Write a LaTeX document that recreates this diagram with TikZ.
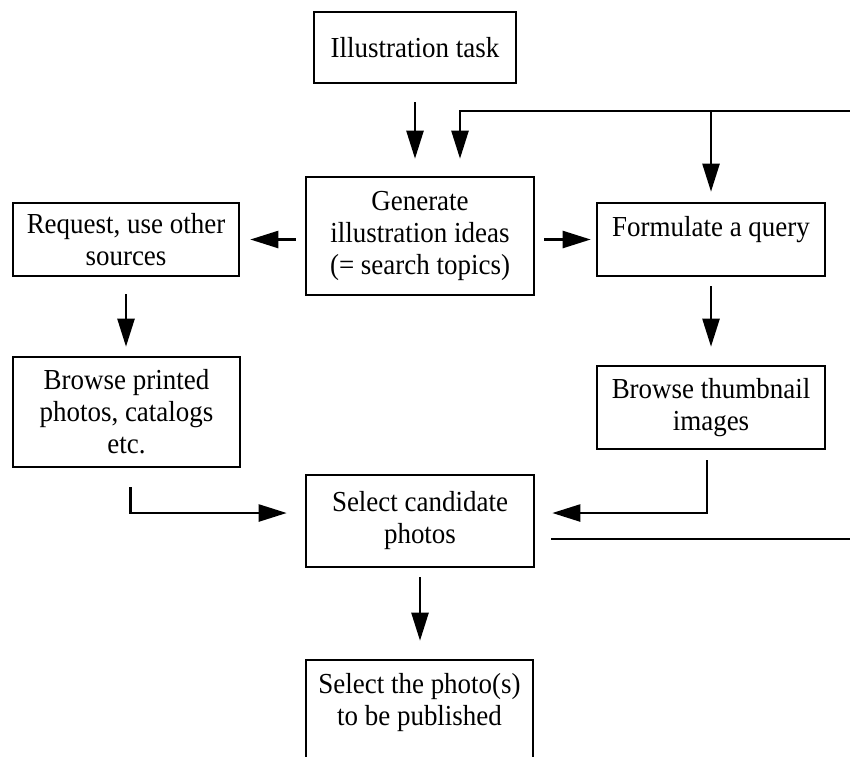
\documentclass[tikz,border=0pt]{standalone}
\usepackage{fontspec}
\setmainfont{Liberation Serif}[FakeStretch=0.93]
\usetikzlibrary{arrows.meta}

\begin{document}
\begin{tikzpicture}[x=1pt, y=-1pt,
    box/.style={draw, line width=2.6pt, inner sep=0pt, align=center,
      font=\fontsize{29}{32}\selectfont},
    flow/.style={line width=2.4pt, -{Triangle[length=28pt,width=17pt]}}]
  \useasboundingbox (0,0) rectangle (850,756);

  \node[box, minimum width=202pt, minimum height=71pt] (task) at (415,47.5) {Illustration task};
  \node[box, minimum width=228pt, minimum height=118pt] (ideas) at (420,236) {Generate\\illustration ideas\\(= search topics)};
  \node[box, minimum width=226pt, minimum height=73pt] (other) at (126,239.5) {Request, use other\\sources};
  \node[box, minimum width=228pt, minimum height=73pt] (query) at (711,239.5) {Formulate a query\\[-6pt]~};
  \node[box, minimum width=227pt, minimum height=110pt] (printed) at (126.5,412) {Browse printed\\photos, catalogs\\etc.};
  \node[box, minimum width=228pt, minimum height=83pt] (thumb) at (711,407.5) {Browse thumbnail\\images};
  \node[box, minimum width=228pt, minimum height=92pt] (cand) at (420,521) {Select candidate\\photos};
  \node[box, minimum width=227pt, minimum height=110pt] (publish) at (419.5,715) {Select the photo(s)\\to be published\\~};

  \coordinate (backin) at (850,111);
  \coordinate (fb) at (460,111);
  \coordinate (backout) at (850,539);

  \draw[flow, shorten <=18pt, shorten >=17pt] (task.south) -- (task.south |- ideas.north);
  \draw[flow, shorten >=17pt] (backin) -- (fb) -- (fb |- ideas.north);
  \draw[flow, shorten >=10pt] (query.north |- backin) -- (query.north);
  \draw[flow, shorten <=9pt, shorten >=10pt] (ideas.west |- other) -- (other.east);
  \draw[flow, shorten <=9pt, shorten >=5pt] (ideas.east |- query) -- (query.west);
  \draw[flow, shorten <=17pt, shorten >=9pt] (other.south) -- (other.south |- printed.north);
  \draw[flow, shorten <=9pt, shorten >=18pt] (query.south) -- (query.south |- thumb.north);
  \draw[flow, shorten <=19pt, shorten >=18pt] ([xshift=4pt]printed.south) |- ([yshift=8pt]cand.west);
  \draw[flow, shorten <=10pt, shorten >=17pt] ([xshift=-4pt]thumb.south) |- ([yshift=8pt]cand.east);
  \draw[line width=2.4pt, shorten <=16pt] (cand.east |- backout) -- (backout);
  \draw[flow, shorten <=9pt, shorten >=18pt] (cand.south) -- (cand.south |- publish.north);
\end{tikzpicture}
\end{document}
